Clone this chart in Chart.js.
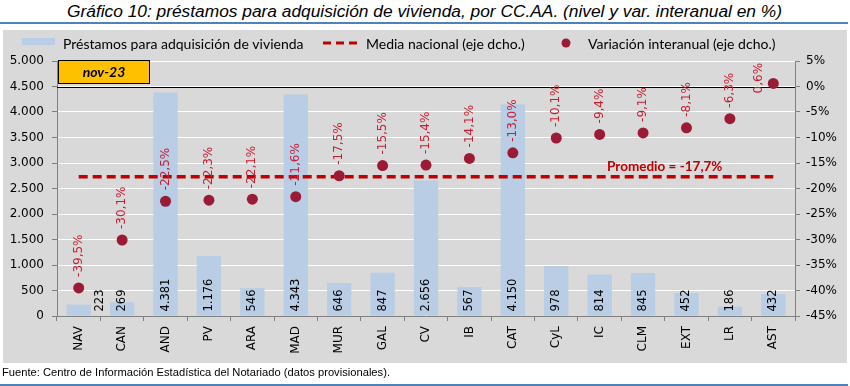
<!DOCTYPE html>
<html>
<head>
<meta charset="utf-8">
<script src="https://cdn.jsdelivr.net/npm/chart.js@4.4.0/dist/chart.umd.min.js"></script>
<style>
html,body{margin:0;padding:0;background:#fff;width:850px;height:386px;overflow:hidden}
#title{position:absolute;left:67px;top:3px;font:italic 16px "Liberation Sans",Arial,sans-serif;white-space:nowrap;transform-origin:0 0;color:#000;line-height:18px}
#rule1{position:absolute;left:0;top:22px;width:848px;height:2px;background:#4f81bd}
#panel{position:absolute;left:3px;top:30px;width:844px;height:333px;background:#d9d9d9}
#chart{position:absolute;left:0;top:0}
#source{position:absolute;left:2px;top:366px;font:11px "Liberation Sans",Arial,sans-serif;white-space:nowrap;transform-origin:0 0;line-height:13px;color:#000}
#rule2{position:absolute;left:0;top:384px;width:848px;height:2px;background:#4f81bd}
</style>
</head>
<body>
<div id="title">Gráfico 10: préstamos para adquisición de vivienda, por CC.AA. (nivel y var. interanual en %)</div>
<div id="rule1"></div>
<div id="panel"></div>
<canvas id="chart" width="850" height="386"></canvas>
<div id="source">Fuente: Centro de Información Estadística del Notariado (datos provisionales).</div>
<div id="rule2"></div>
<script>
// ---- data ----
const categories = ['NAV','CAN','AND','PV','ARA','MAD','MUR','GAL','CV','IB','CAT','CyL','IC','CLM','EXT','LR','AST'];
const loans = [223,269,4381,1176,546,4343,646,847,2656,567,4150,978,814,845,452,186,432];
const yoyChange = [-39.5,-30.1,-22.5,-22.3,-22.1,-21.6,-17.5,-15.5,-15.4,-14.1,-13.0,-10.1,-9.4,-9.1,-8.1,-6.3,0.6];
const nationalAverage = -17.7;
const nationalAverageLine = [-17.7,-17.7,-17.7,-17.7,-17.7,-17.7,-17.7,-17.7,-17.7,-17.7,-17.7,-17.7,-17.7,-17.7,-17.7,-17.7,-17.7];
const leftAxis = {min:0, max:5000, step:500};
const rightAxis = {min:-45, max:5, step:5};
const periodLabel = 'nov-23';
const seriesNames = ['Préstamos para adquisición de vivienda','Media nacional (eje dcho.)','Variación interanual (eje dcho.)'];

// ---- helpers ----
function fitWidth(id, target){
  const el=document.getElementById(id);
  const w=el.getBoundingClientRect().width;
  el.style.transform='scaleX('+(target/w)+')';
}
fitWidth('title',715);
fitWidth('source',388);

const fmtThousands = v => String(Math.round(v)).replace(/\B(?=(\d{3})+(?!\d))/g,'.');
const fmtPct = v => v.toFixed(1).replace('.',',')+'%';

const COL_BAR='#b9cde5', COL_DOT='#9b1b36', COL_AVG='#c00000', COL_LBL='#c81e32', AXIS='#808080';
const tickFont={family:'"DejaVu Sans"',size:12};

const extras={
  id:'extras',
  beforeDatasetsDraw(chart){
    const {ctx,chartArea:a}=chart; const y1=chart.scales.y1;
    const y=Math.round(y1.getPixelForValue(0))+0.5;
    ctx.save(); ctx.strokeStyle='#000'; ctx.lineWidth=1;
    ctx.beginPath(); ctx.moveTo(a.left,y); ctx.lineTo(a.right,y); ctx.stroke(); ctx.restore();
  },
  afterDatasetsDraw(chart){
    const {ctx,chartArea:a}=chart; const xs=chart.scales.x, y1=chart.scales.y1;
    const barMeta=chart.getDatasetMeta(2), dotMeta=chart.getDatasetMeta(0);
    const half=(xs.getPixelForValue(1)-xs.getPixelForValue(0))/2;
    ctx.save();
    ctx.font='11.5px "DejaVu Sans"'; ctx.fillStyle='#000'; ctx.textBaseline='middle'; ctx.textAlign='left';
    barMeta.data.forEach((bar,i)=>{
      const t=fmtThousands(loans[i]); const w=ctx.measureText(t).width;
      let x=bar.x; const ys=bar.base-4; const d=dotMeta.data[i];
      if (d.y+6>ys-w && d.y-6<ys) x+=half;
      ctx.save(); ctx.translate(x,ys); ctx.rotate(-Math.PI/2); ctx.fillText(t,0,0); ctx.restore();
    });
    ctx.font='12px "DejaVu Sans"'; ctx.fillStyle=COL_LBL;
    dotMeta.data.forEach((d,i)=>{
      const t=fmtPct(yoyChange[i]); const w=ctx.measureText(t).width;
      let x=d.x, ys=d.y-11;
      if (ys-w<a.top-10){ x=d.x-14; ys=d.y+10; }
      ctx.save(); ctx.translate(x,ys); ctx.rotate(-Math.PI/2); ctx.fillText(t,0,0); ctx.restore();
    });
    // promedio label
    ctx.font='bold 13.5px Lato'; ctx.fillStyle=COL_AVG; ctx.textAlign='center';
    const px=(xs.getPixelForValue(13)+xs.getPixelForValue(14))/2;
    ctx.fillText('Promedio = '+fmtPct(nationalAverage), px, y1.getPixelForValue(nationalAverage)-10);
    ctx.restore();
  },
  afterDraw(chart){
    const {ctx}=chart;
    ctx.save();
    // period box
    ctx.fillStyle='#ffc000'; ctx.fillRect(58,60,92,24);
    ctx.strokeStyle='#000'; ctx.lineWidth=1; ctx.strokeRect(58.5,60.5,91,23);
    ctx.fillStyle='#000'; ctx.font='italic bold 14px Lato'; ctx.textAlign='center'; ctx.textBaseline='middle';
    ctx.fillText(periodLabel,104,72);
    // legend
    ctx.textAlign='left'; ctx.font='14px Lato'; ctx.fillStyle='#000';
    const ds=chart.data.datasets;
    ctx.fillStyle=COL_BAR; ctx.fillRect(22,38,33,7);
    ctx.fillStyle='#000'; ctx.fillText(ds[2].label,63,44);
    ctx.strokeStyle=COL_AVG; ctx.lineWidth=3; ctx.setLineDash([8,5]);
    ctx.beginPath(); ctx.moveTo(323,43); ctx.lineTo(358,43); ctx.stroke(); ctx.setLineDash([]);
    ctx.fillText(ds[1].label,366,44);
    ctx.fillStyle=COL_DOT; ctx.beginPath(); ctx.arc(566,43,4.5,0,Math.PI*2); ctx.fill();
    ctx.fillStyle='#000'; ctx.fillText(ds[0].label,588,44);
    ctx.restore();
  }
};

new Chart(document.getElementById('chart'),{
  type:'bar',
  data:{
    labels:categories,
    datasets:[
      {type:'line',label:seriesNames[2],data:yoyChange,yAxisID:'y1',showLine:false,pointRadius:5.5,pointHoverRadius:5.5,pointBackgroundColor:COL_DOT,pointBorderColor:COL_DOT,pointBorderWidth:0,order:1},
      {type:'line',label:seriesNames[1],data:nationalAverageLine,yAxisID:'y1',borderColor:COL_AVG,borderWidth:3.5,borderDash:[9,5],pointRadius:0,fill:false,order:2},
      {type:'bar',label:seriesNames[0],data:loans,yAxisID:'y',backgroundColor:COL_BAR,barPercentage:0.56,categoryPercentage:1,order:3}
    ]
  },
  options:{
    responsive:false, animation:false,
    layout:{padding:{top:61,left:0,right:0,bottom:0}},
    plugins:{legend:{display:false},tooltip:{enabled:false},title:{display:false}},
    scales:{
      x:{offset:true,
         grid:{display:true,drawOnChartArea:false,drawTicks:true,tickLength:5,offset:true,color:AXIS},
         border:{display:true,color:AXIS},
         ticks:{minRotation:90,maxRotation:90,autoSkip:false,padding:5,color:'#000',font:tickFont},
         afterFit(s){s.height=70;}},
      y:{position:'left',min:leftAxis.min,max:leftAxis.max,
         ticks:{stepSize:leftAxis.step,callback:v=>fmtThousands(v),padding:8,color:'#000',font:tickFont},
         grid:{color:'#ffffff',lineWidth:1,drawTicks:true,tickLength:5,tickColor:AXIS},
         border:{display:true,color:AXIS},
         afterFit(s){s.width=57;}},
      y1:{position:'right',min:rightAxis.min,max:rightAxis.max,
         ticks:{stepSize:rightAxis.step,callback:v=>v+'%',padding:6,color:'#000',font:tickFont},
         grid:{drawOnChartArea:false,drawTicks:true,tickLength:5,color:AXIS},
         border:{display:true,color:AXIS},
         afterFit(s){s.width=55;}}
    }
  },
  plugins:[extras]
});
</script>
</body>
</html>
